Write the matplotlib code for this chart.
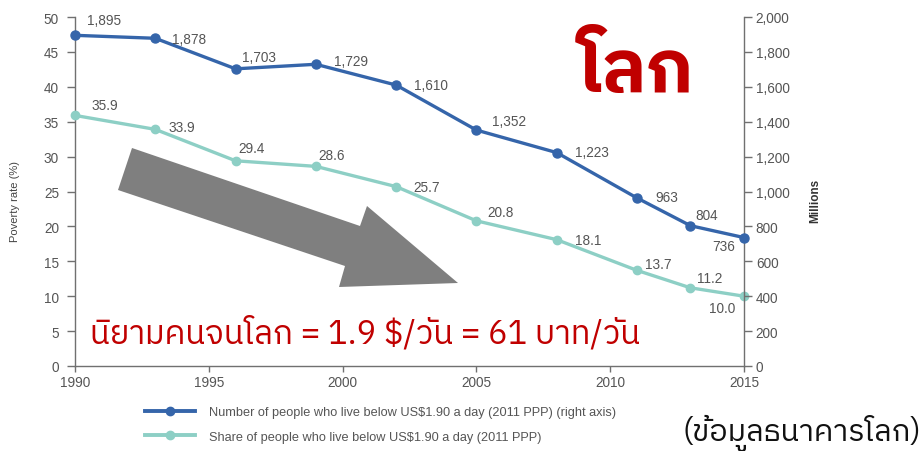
import matplotlib
matplotlib.use("Agg")
import matplotlib.pyplot as plt
from matplotlib import font_manager as fm
from matplotlib.ft2font import FT2Font
from matplotlib.patches import Polygon
from matplotlib.lines import Line2D

# ---------------- data ----------------
years = [1990, 1993, 1996, 1999, 2002, 2005, 2008, 2011, 2013, 2015]
people_millions = [1895, 1878, 1703, 1729, 1610, 1352, 1223, 963, 804, 736]
share_pct = [35.9, 33.9, 29.4, 28.6, 25.7, 20.8, 18.1, 13.7, 11.2, 10.0]
people_labels = ["1,895", "1,878", "1,703", "1,729", "1,610", "1,352", "1,223", "963", "804", "736"]
share_labels = ["35.9", "33.9", "29.4", "28.6", "25.7", "20.8", "18.1", "13.7", "11.2", "10.0"]
x_ticks = [1990, 1995, 2000, 2005, 2010, 2015]
left_ticks = [0, 5, 10, 15, 20, 25, 30, 35, 40, 45, 50]
right_ticks = [0, 200, 400, 600, 800, 1000, 1200, 1400, 1600, 1800, 2000]
right_tick_labels = ["0", "200", "400", "600", "800", "1,000", "1,200", "1,400", "1,600", "1,800", "2,000"]
legend_people = "Number of people who live below US$1.90 a day (2011 PPP) (right axis)"
legend_share = "Share of people who live below US$1.90 a day (2011 PPP)"
title_text = "โลก"
subtitle_text = "นิยามคนจนโลก = 1.9 $/วัน = 61 บาท/วัน"
source_text = "(ข้อมูลธนาคารโลก)"
left_label = "Poverty rate (%)"
right_label = "Millions"

# label offsets (pixels): (dx, dy, ha)
people_off = [(12, 15, 'left'), (17, -1, 'left'), (6, 12, 'left'), (18, 3, 'left'),
              (18, 0, 'left'), (16, 9, 'left'), (18, 1, 'left'), (18, 1, 'left'),
              (5, 11, 'left'), (-9, -8, 'right')]
share_off = [(17, 10, 'left'), (13, 2, 'left'), (3, 13, 'left'), (3, 11, 'left'),
             (17, 0, 'left'), (11, 9, 'left'), (18, 0, 'left'), (8, 6, 'left'),
             (7, 10, 'left'), (-9, -12, 'right')]

# ---------------- fonts ----------------
def find_thai_font():
    names = []
    for f in fm.fontManager.ttflist:
        try:
            cm = FT2Font(f.fname).get_charmap()
        except Exception:
            continue
        if 0x0E01 in cm and 0x0E42 in cm and 0x0E34 in cm:
            names.append(f.name)
    if not names:
        return None
    def score(n):
        s = 0
        if 'Thai' in n:
            s -= 10
        if 'Looped' in n:
            s += 5
        if 'UI' in n:
            s += 1
        return s
    names.sort(key=score)
    return names[0]

thai = find_thai_font()
thai_family = ([thai] if thai else []) + ['DejaVu Sans']
base_font = 'Liberation Sans'
plt.rcParams['font.family'] = [base_font, 'DejaVu Sans']

W, H = 924, 452
fig = plt.figure(figsize=(W / 100, H / 100), dpi=100)
fig.patch.set_facecolor('white')

ax = fig.add_axes([75 / W, 1 - 367 / H, 669 / W, 349 / H])
ax2 = ax.twinx()

blue = '#3565AA'
teal = '#8DCFC5'
spine_c = '#707070'
tick_lab_c = '#555555'
lab_c = '#444444'

ax.set_xlim(1990, 2015)
ax.set_ylim(0, 50)
ax2.set_ylim(0, 2000)

ax.plot(years, share_pct, color=teal, lw=2.4, marker='o', ms=6, zorder=3, clip_on=False)
ax2.plot(years, people_millions, color=blue, lw=2.4, marker='o', ms=6.5, zorder=3, clip_on=False)

px = 72 / 100
for x, y, t, (dx, dy, ha) in zip(years, share_pct, share_labels, share_off):
    ax.annotate(t, (x, y), xytext=(dx * px, dy * px), textcoords='offset points',
                ha=ha, va='center', fontsize=9.8, color=tick_lab_c)
for x, y, t, (dx, dy, ha) in zip(years, people_millions, people_labels, people_off):
    ax2.annotate(t, (x, y), xytext=(dx * px, dy * px), textcoords='offset points',
                 ha=ha, va='center', fontsize=9.8, color=tick_lab_c)

for a in (ax, ax2):
    a.spines['top'].set_visible(False)
    for s in a.spines.values():
        s.set_color(spine_c)
        s.set_linewidth(1.0)
ax.spines['right'].set_visible(False)
ax2.spines['left'].set_visible(False)
ax2.spines['bottom'].set_visible(False)

ax.set_xticks(x_ticks)
ax.set_xticklabels([str(v) for v in x_ticks])
ax.set_yticks(left_ticks)
ax.set_yticklabels([str(v) for v in left_ticks])
ax2.set_yticks(right_ticks)
ax2.set_yticklabels(right_tick_labels)

ax.tick_params(axis='x', direction='out', length=4.5, width=1, color=spine_c,
               labelsize=9.8, labelcolor=tick_lab_c, pad=2)
ax.tick_params(axis='y', direction='out', length=5.5, width=1, color=spine_c,
               labelsize=9.8, labelcolor=tick_lab_c, pad=6)
ax2.tick_params(axis='y', direction='out', length=5.5, width=1, color=spine_c,
                labelsize=9.8, labelcolor=tick_lab_c, pad=3)

fig.text(15 / W, 1 - 201 / H, left_label, rotation=90, ha='center', va='center',
         fontsize=8, color=lab_c, fontstretch='condensed')
fig.text(815 / W, 1 - 201 / H, right_label, rotation=90, ha='center', va='center',
         fontsize=8.5, color='#333333', fontweight='bold')

# big grey arrow (decorative)
arrow_px = [(132, 149), (360, 227), (367, 207), (458, 284), (339, 288), (345, 267), (118, 191)]
arrow = Polygon([(x / W, 1 - y / H) for x, y in arrow_px], closed=True,
                transform=fig.transFigure, facecolor='#7F7F7F', edgecolor='none', zorder=5)
fig.patches.append(arrow)

# red texts
fig.text(636 / W, 1 - 72 / H, title_text, ha='center', va='center', fontsize=53,
         fontweight='bold', color='#C00000', family=thai_family)
fig.text(90 / W, 1 - 333 / H, subtitle_text, ha='left', va='center', fontsize=23.5,
         color='#C00000', family=thai_family)
fig.text(921 / W, 1 - 433 / H, source_text, ha='right', va='center', fontsize=22,
         color='#111111', family=thai_family)

# legend
h1 = Line2D([], [], color=blue, lw=2.8, marker='o', ms=6)
h2 = Line2D([], [], color=teal, lw=2.8, marker='o', ms=6)
fig.legend([h1, h2], [legend_people, legend_share], loc='upper left',
           bbox_to_anchor=(145 / W, 1 - 407 / H), frameon=False, fontsize=9.2,
           handlelength=3.9, handletextpad=1.1, labelspacing=1.0,
           labelcolor='#555555', borderaxespad=0, borderpad=0)

fig.savefig('out.png', dpi=100, facecolor='white')
